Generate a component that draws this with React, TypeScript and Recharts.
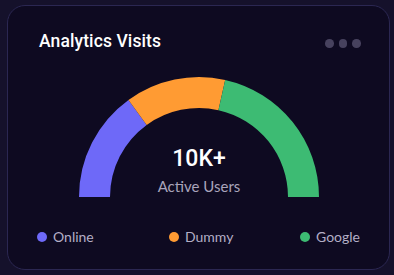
import React from 'react';
import { PieChart, Pie, Cell } from 'recharts';

const sources = ['Online', 'Dummy', 'Google'];
const visits = [30, 27, 43];
const colors = ['#6e69f8', '#ff9b33', '#3dbb73'];
const headline = '10K+';
const subline = 'Active Users';

const data = sources.map((name, i) => ({ name, value: visits[i] }));

export default function App() {
  return (
    <div style={{ position: 'fixed', left: 0, top: 0, width: 394, height: 275, background: '#15112b', overflow: 'hidden' }}>
      <div
        style={{
          position: 'absolute', left: 7, top: 5, width: 381, height: 263,
          background: '#0e0a21', border: '1px solid #2b2752', borderRadius: 18,
        }}
      />
      <div style={{ position: 'absolute', left: 39, top: 31, color: '#ffffff', fontFamily: 'Roboto, sans-serif', fontSize: 17.5, fontWeight: 500, letterSpacing: 0.1 }}>
        Analytics Visits
      </div>
      <div style={{ position: 'absolute', left: 325, top: 39, display: 'flex', gap: 5 }}>
        {[0, 1, 2].map((i) => (
          <div key={i} style={{ width: 8.5, height: 8.5, borderRadius: '50%', background: '#47425e' }} />
        ))}
      </div>
      <div style={{ position: 'absolute', left: 0, top: 0 }}>
        <PieChart width={394} height={275} margin={{ top: 0, right: 0, bottom: 0, left: 0 }}>
          <Pie
            data={data}
            dataKey="value"
            cx={199}
            cy={197}
            innerRadius={89}
            outerRadius={120}
            startAngle={180}
            endAngle={0}
            stroke="none"
            isAnimationActive={false}
          >
            {data.map((d, i) => (
              <Cell key={d.name} fill={colors[i]} />
            ))}
          </Pie>
          <text x={199} y={166} textAnchor="middle" fill="#ffffff" fontFamily="Roboto, sans-serif" fontSize={23} fontWeight={500}>
            {headline}
          </text>
          <text x={199} y={192} textAnchor="middle" fill="#a9a4bb" fontFamily="Lato, sans-serif" fontSize={15}>
            {subline}
          </text>
        </PieChart>
      </div>
      {data.map((d, i) => (
        <div
          key={d.name}
          style={{
            position: 'absolute', left: [37, 169, 300][i], top: 228, display: 'flex', alignItems: 'center', gap: 6,
            fontFamily: 'Lato, sans-serif', fontSize: 14, color: '#b3aec6',
          }}
        >
          <span style={{ width: 10, height: 10, borderRadius: '50%', background: colors[i], display: 'inline-block' }} />
          {d.name}
        </div>
      ))}
    </div>
  );
}
